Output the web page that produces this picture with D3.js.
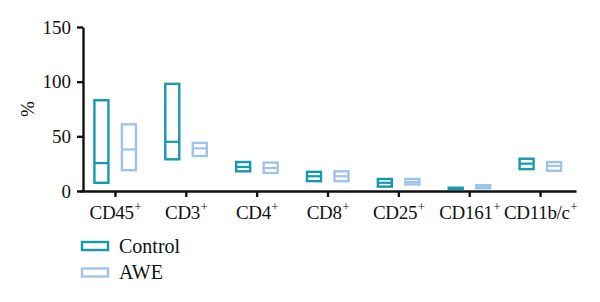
<!DOCTYPE html>
<html>
<head>
<meta charset="utf-8">
<script src="https://cdn.jsdelivr.net/npm/d3@7"></script>
<style>
  body { margin: 0; background: #fff; }
</style>
</head>
<body>
<div id="chart"></div>
<script>
// values (% of cells)
var categories = ["CD45", "CD3", "CD4", "CD8", "CD25", "CD161", "CD11b/c"];
var controlMin = [7.5, 29, 18, 9, 4, 2, 20];
var controlMax = [83, 98, 26.5, 17.5, 11, 3, 29.5];
var controlMid = [25.5, 45, 22, 13.5, 7.5, 2.5, 25];
var aweMin = [19, 32, 16.5, 9, 6, 2.5, 18.5];
var aweMax = [61, 44, 26, 18, 11, 5.3, 26.5];
var aweMid = [38, 39, 21, 13.5, 8.2, 4, 23];
var yTicks = [0, 50, 100, 150];
var seriesNames = ["Control", "AWE"];
var colors = ["#1699ae", "#9fc4ea"];

var width = 600, height = 302;
var serif = "'Liberation Serif', 'Times New Roman', serif";

var svg = d3.select("#chart").append("svg")
  .attr("width", width)
  .attr("height", height)
  .style("font-family", serif);

var x = d3.scaleBand()
  .domain(categories)
  .range([80, 576])
  .padding(0);

var y = d3.scaleLinear()
  .domain([0, 150])
  .range([191, 27]);

var series = [
  { name: seriesNames[0], min: controlMin, max: controlMax, mid: controlMid, offset: -14, color: colors[0] },
  { name: seriesNames[1], min: aweMin, max: aweMax, mid: aweMid, offset: 13.5, color: colors[1] }
];

var barW = 14;

series.forEach(function(s) {
  var g = svg.append("g");
  categories.forEach(function(c, i) {
    var cx = x(c) + x.bandwidth() / 2 + s.offset;
    g.append("rect")
      .attr("x", cx - barW / 2)
      .attr("y", y(s.max[i]))
      .attr("width", barW)
      .attr("height", y(s.min[i]) - y(s.max[i]))
      .attr("fill", "none")
      .attr("stroke", s.color)
      .attr("stroke-width", 2.4);
    g.append("line")
      .attr("x1", cx - barW / 2)
      .attr("x2", cx + barW / 2)
      .attr("y1", y(s.mid[i]))
      .attr("y2", y(s.mid[i]))
      .attr("stroke", s.color)
      .attr("stroke-width", 2.2);
  });
});

// y axis
var yAxis = svg.append("g")
  .attr("transform", "translate(83,0)")
  .call(d3.axisLeft(y).tickValues(yTicks).tickSize(6).tickSizeOuter(0).tickPadding(6));
yAxis.attr("font-family", null).attr("font-size", null);
yAxis.select(".domain").attr("stroke", "#111").attr("stroke-width", 2.4);
yAxis.selectAll(".tick line").attr("stroke", "#111").attr("stroke-width", 2.4);
yAxis.selectAll(".tick text")
  .style("font-family", serif)
  .style("font-size", "19px")
  .attr("fill", "#111");

// x axis
var xAxis = svg.append("g")
  .attr("transform", "translate(0,191)")
  .call(d3.axisBottom(x).tickSize(6).tickSizeOuter(0).tickPadding(8));
xAxis.attr("font-family", null).attr("font-size", null);
xAxis.select(".domain").attr("stroke", "#111").attr("stroke-width", 2.4);
xAxis.selectAll(".tick line").attr("stroke", "#111").attr("stroke-width", 2.4);
xAxis.selectAll(".tick text").each(function(d) {
  var t = d3.select(this);
  t.text(null)
    .style("font-family", serif)
    .style("font-size", "19px")
    .style("letter-spacing", "-0.3px")
    .attr("fill", "#111")
    .attr("dy", null)
    .attr("y", 27.5);
  t.append("tspan").text(d);
  t.append("tspan").text("+").style("font-size", "13px").attr("dx", 0.5).attr("dy", -7.5);
});

// y label
svg.append("text")
  .attr("transform", "translate(34,109) rotate(-90)")
  .attr("text-anchor", "middle")
  .style("font-size", "19px")
  .attr("fill", "#111")
  .text("%");

// legend
var legend = svg.append("g");
series.forEach(function(s, i) {
  var ly = 242 + i * 26.5;
  legend.append("rect")
    .attr("x", 82)
    .attr("y", ly)
    .attr("width", 26)
    .attr("height", 8)
    .attr("fill", "none")
    .attr("stroke", s.color)
    .attr("stroke-width", 2.4);
  legend.append("text")
    .attr("x", 119)
    .attr("y", ly + 10.5)
    .style("font-size", "20px")
    .attr("fill", "#111")
    .text(s.name);
});
</script>
</body>
</html>
